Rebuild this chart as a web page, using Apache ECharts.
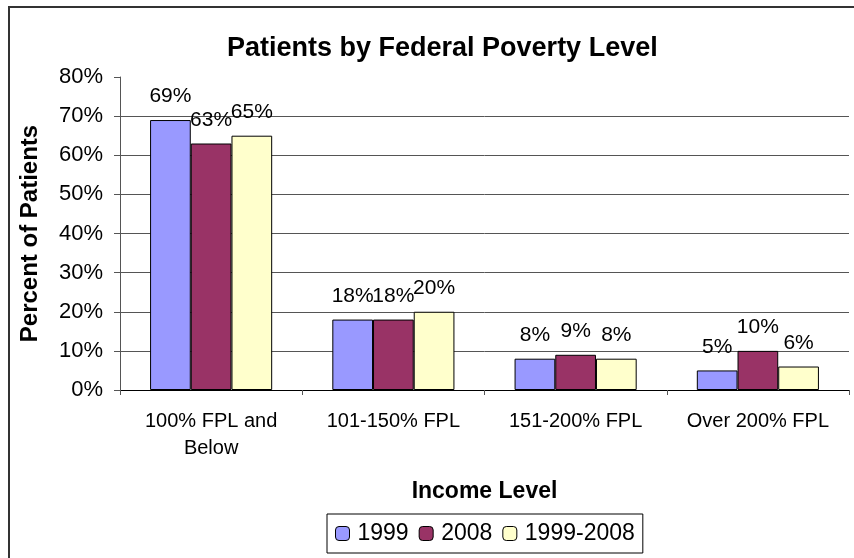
<!DOCTYPE html>
<html>
<head>
<meta charset="utf-8">
<script src="https://cdn.jsdelivr.net/npm/echarts@6/dist/echarts.min.js"></script>
<style>
  html, body { margin: 0; padding: 0; background: #fff; }
  #chart { width: 854px; height: 558px; }
</style>
</head>
<body>
<div id="chart"></div>
<script>
var categories = ['100% FPL and\nBelow', '101-150% FPL', '151-200% FPL', 'Over 200% FPL'];
var seriesNames = ['1999', '2008', '1999-2008'];
var values1999 = [69, 18, 8, 5];
var values2008 = [63, 18, 9, 10];
var values19992008 = [65, 20, 8, 6];
var yTicks = [0, 10, 20, 30, 40, 50, 60, 70, 80];
var colors = ['#9999FF', '#993366', '#FFFFCC'];

var font = 'Liberation Sans, Arial, sans-serif';
var myChart = echarts.init(document.getElementById('chart'));

function makeSeries(name, data, color) {
  return {
    name: name,
    type: 'bar',
    data: data,
    barGap: 0,
    barCategoryGap: '33%',
    itemStyle: { color: color, borderColor: '#000', borderWidth: 1 },
    label: {
      show: true,
      position: 'top',
      distance: 13,
      formatter: '{c}%',
      color: '#000',
      fontFamily: font,
      fontSize: 21
    }
  };
}

// top gridline (80%) is not drawn in the original
var gridColors = yTicks.map(function (v, i) { return i === yTicks.length - 1 ? 'rgba(0,0,0,0)' : '#555'; });

myChart.setOption({
  animation: false,
  backgroundColor: '#fff',
  graphic: [{
    type: 'rect',
    shape: { x: 9, y: 7, width: 900, height: 600 },
    style: { fill: 'none', stroke: '#333', lineWidth: 2 },
    z: 100
  }],
  title: {
    text: 'Patients by Federal Poverty Level',
    left: 222,
    top: 30,
    textStyle: { fontFamily: font, fontSize: 27, fontWeight: 'bold', color: '#000' }
  },
  grid: { left: 120, right: 5, top: 77, bottom: 168, containLabel: false },
  legend: {
    data: seriesNames,
    left: 327,
    top: 514,
    padding: [8, 8, 8, 8],
    itemGap: 10,
    itemWidth: 14,
    itemHeight: 14,
    itemStyle: { borderColor: '#000', borderWidth: 1 },
    borderColor: '#000',
    borderWidth: 1,
    textStyle: { fontFamily: font, fontSize: 23, color: '#000', padding: [0, 0, 0, 3] }
  },
  xAxis: {
    type: 'category',
    data: categories,
    name: 'Income Level',
    nameLocation: 'middle',
    nameGap: 90,
    nameTextStyle: { fontFamily: font, fontSize: 23, fontWeight: 'bold', color: '#000' },
    axisLine: { lineStyle: { color: '#000', width: 1 } },
    axisTick: { show: true, length: 5, lineStyle: { color: '#555' } },
    axisLabel: { fontFamily: font, fontSize: 20, color: '#000', margin: 18, lineHeight: 27, interval: 0 }
  },
  yAxis: {
    type: 'value',
    min: 0,
    max: 80,
    interval: 10,
    name: 'Percent of Patients',
    nameLocation: 'middle',
    nameGap: 78,
    nameTextStyle: { fontFamily: font, fontSize: 24, fontWeight: 'bold', color: '#000' },
    axisLine: { show: true, lineStyle: { color: '#555', width: 1 } },
    axisTick: { show: true, length: 6, lineStyle: { color: '#555' } },
    axisLabel: { formatter: '{value}%', fontFamily: font, fontSize: 22, color: '#000', margin: 17 },
    splitLine: { show: true, lineStyle: { color: gridColors, width: 1 } }
  },
  series: [
    makeSeries(seriesNames[0], values1999, colors[0]),
    makeSeries(seriesNames[1], values2008, colors[1]),
    makeSeries(seriesNames[2], values19992008, colors[2])
  ]
});

window.onresize = function () {
  myChart.resize();
};
</script>
</body>
</html>
